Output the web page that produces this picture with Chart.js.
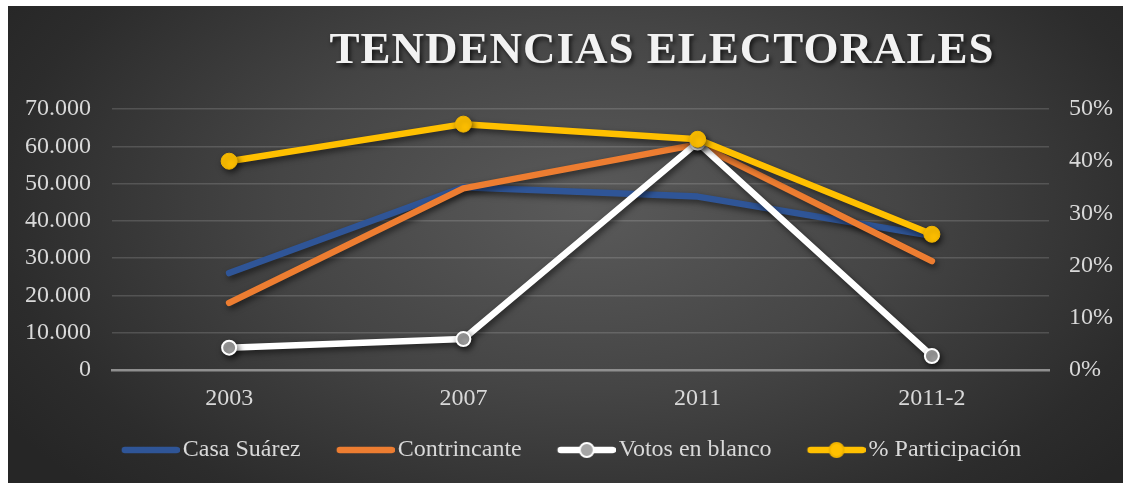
<!DOCTYPE html>
<html>
<head>
<meta charset="utf-8">
<script src="https://cdn.jsdelivr.net/npm/chart.js@4/dist/chart.umd.min.js"></script>
<style>
  html, body { margin: 0; padding: 0; background: #ffffff; }
  #marco {
    position: absolute; left: 8px; top: 6px; width: 1115px; height: 477px;
    background: radial-gradient(ellipse 62% 85% at 52% 42%, #5a5a5a 0%, #454545 45%, #2c2c2c 85%, #262626 100%);
  }
</style>
</head>
<body>
<div id="marco"><canvas id="grafico"></canvas></div>
<script>
const anios = ["2003", "2007", "2011", "2011-2"];
const casaSuarez = [26000, 49000, 46500, 36000];
const contrincante = [18000, 48700, 60500, 29200];
const votosBlanco = [6000, 8300, 61000, 3750];
const participacion = [40.0, 47.1, 44.2, 26.0];

const fuente = "'Liberation Serif', 'Times New Roman', serif";
const gris = "#d9d9d9";

// icono de la leyenda: linea + marcador opcional
function iconoLeyenda(color, relleno, borde) {
    const c = document.createElement("canvas");
    c.width = 93; c.height = 20;
    const g = c.getContext("2d");
    g.strokeStyle = color;
    g.lineWidth = 6.5;
    g.lineCap = "round";
    g.beginPath();
    g.moveTo(38, 10);
    g.lineTo(90, 10);
    g.stroke();
    if (relleno) {
        g.beginPath();
        g.arc(64, 10, 7, 0, Math.PI * 2);
        g.fillStyle = relleno;
        g.fill();
        g.lineWidth = 2;
        g.strokeStyle = borde;
        g.stroke();
    }
    return c;
}

const sombra = {
    id: "sombra",
    beforeDatasetsDraw(chart) {
        const ctx = chart.ctx;
        ctx.save();
        ctx.shadowColor = "rgba(0,0,0,0.55)";
        ctx.shadowBlur = 6;
        ctx.shadowOffsetX = 2;
        ctx.shadowOffsetY = 3;
    },
    afterDatasetsDraw(chart) {
        chart.ctx.restore();
    }
};

// la leyenda del original esta un poco a la izquierda del centro
const moverLeyenda = {
    id: "moverLeyenda",
    afterLayout(chart) {
        chart.legend.left -= 7;
        chart.legend.right -= 7;
    }
};

const titulo = {
    id: "titulo",
    afterDraw(chart) {
        const ctx = chart.ctx;
        ctx.save();
        ctx.font = "bold 45px " + fuente;
        ctx.letterSpacing = "1px";
        ctx.textAlign = "center";
        ctx.textBaseline = "alphabetic";
        ctx.shadowColor = "rgba(0,0,0,0.7)";
        ctx.shadowBlur = 4;
        ctx.shadowOffsetX = 2;
        ctx.shadowOffsetY = 3;
        ctx.fillStyle = "#f2f2f2";
        ctx.fillText("TENDENCIAS ELECTORALES", 654, 57);
        ctx.restore();
    }
};

function miles(v) {
    return String(v).replace(/\B(?=(\d{3})+(?!\d))/g, ".");
}

const ctx = document.getElementById("grafico").getContext("2d");

new Chart(ctx, {
    type: "line",
    data: {
        labels: anios,
        datasets: [
            {
                label: "Casa Suárez",
                data: casaSuarez,
                borderColor: "#2f5597",
                backgroundColor: "#2f5597",
                borderWidth: 6.5,
                pointRadius: 0,
                yAxisID: "y",
                order: 4,
                icono: iconoLeyenda("#2f5597")
            },
            {
                label: "Contrincante",
                data: contrincante,
                borderColor: "#ed7d31",
                backgroundColor: "#ed7d31",
                borderWidth: 6.5,
                pointRadius: 0,
                yAxisID: "y",
                order: 3,
                icono: iconoLeyenda("#ed7d31")
            },
            {
                label: "Votos en blanco",
                data: votosBlanco,
                borderColor: "#ffffff",
                backgroundColor: "#a5a5a5",
                borderWidth: 6.5,
                pointRadius: 7,
                pointBorderWidth: 2,
                pointBorderColor: "#ffffff",
                pointBackgroundColor: "#a5a5a5",
                yAxisID: "y",
                order: 2,
                icono: iconoLeyenda("#ffffff", "#a5a5a5", "#ffffff")
            },
            {
                label: "% Participación",
                data: participacion,
                borderColor: "#ffc000",
                backgroundColor: "#ffc000",
                borderWidth: 6.5,
                pointRadius: 8,
                pointBorderWidth: 1,
                pointBorderColor: "#f0b400",
                pointBackgroundColor: "#ffc000",
                yAxisID: "y1",
                order: 1,
                icono: iconoLeyenda("#ffc000", "#ffc000", "#f0b400")
            }
        ]
    },
    options: {
        responsive: true,
        maintainAspectRatio: false,
        animation: false,
        datasets: {
            line: { borderCapStyle: "round", borderJoinStyle: "round", tension: 0 }
        },
        layout: {
            padding: { top: 103, bottom: 11, left: 0, right: 0 }
        },
        scales: {
            x: {
                offset: true,
                grid: { display: false, drawTicks: false },
                border: { display: true, color: "#8f8f8f", width: 2.5 },
                ticks: { color: gris, font: { family: fuente, size: 24 }, padding: 14 },
                afterFit(scale) { scale.height = 58; }
            },
            y: {
                position: "left",
                min: 0,
                max: 70000,
                grid: { color: "rgba(255,255,255,0.15)", lineWidth: 1.5, drawTicks: false },
                border: { display: false },
                ticks: {
                    stepSize: 10000,
                    color: gris,
                    font: { family: fuente, size: 24 },
                    padding: 21,
                    callback: function (v) { return miles(v); }
                },
                afterFit(scale) { scale.width = 104; }
            },
            y1: {
                position: "right",
                min: 0,
                max: 50,
                grid: { drawOnChartArea: false, drawTicks: false },
                border: { display: false },
                ticks: {
                    stepSize: 10,
                    color: gris,
                    font: { family: fuente, size: 24 },
                    padding: 20,
                    callback: function (v) { return v + "%"; }
                },
                afterFit(scale) { scale.width = 74; }
            }
        },
        plugins: {
            tooltip: { enabled: false },
            legend: {
                display: true,
                position: "bottom",
                labels: {
                    color: gris,
                    font: { family: fuente, size: 24 },
                    usePointStyle: true,
                    pointStyleWidth: 75,
                    padding: 10,
                    generateLabels(chart) {
                        return chart.data.datasets.map(function (ds, i) {
                            return {
                                text: ds.label,
                                fontColor: gris,
                                pointStyle: ds.icono,
                                datasetIndex: i,
                                hidden: false,
                                lineWidth: 0
                            };
                        });
                    }
                }
            }
        }
    },
    plugins: [sombra, moverLeyenda, titulo]
});
</script>
</body>
</html>
